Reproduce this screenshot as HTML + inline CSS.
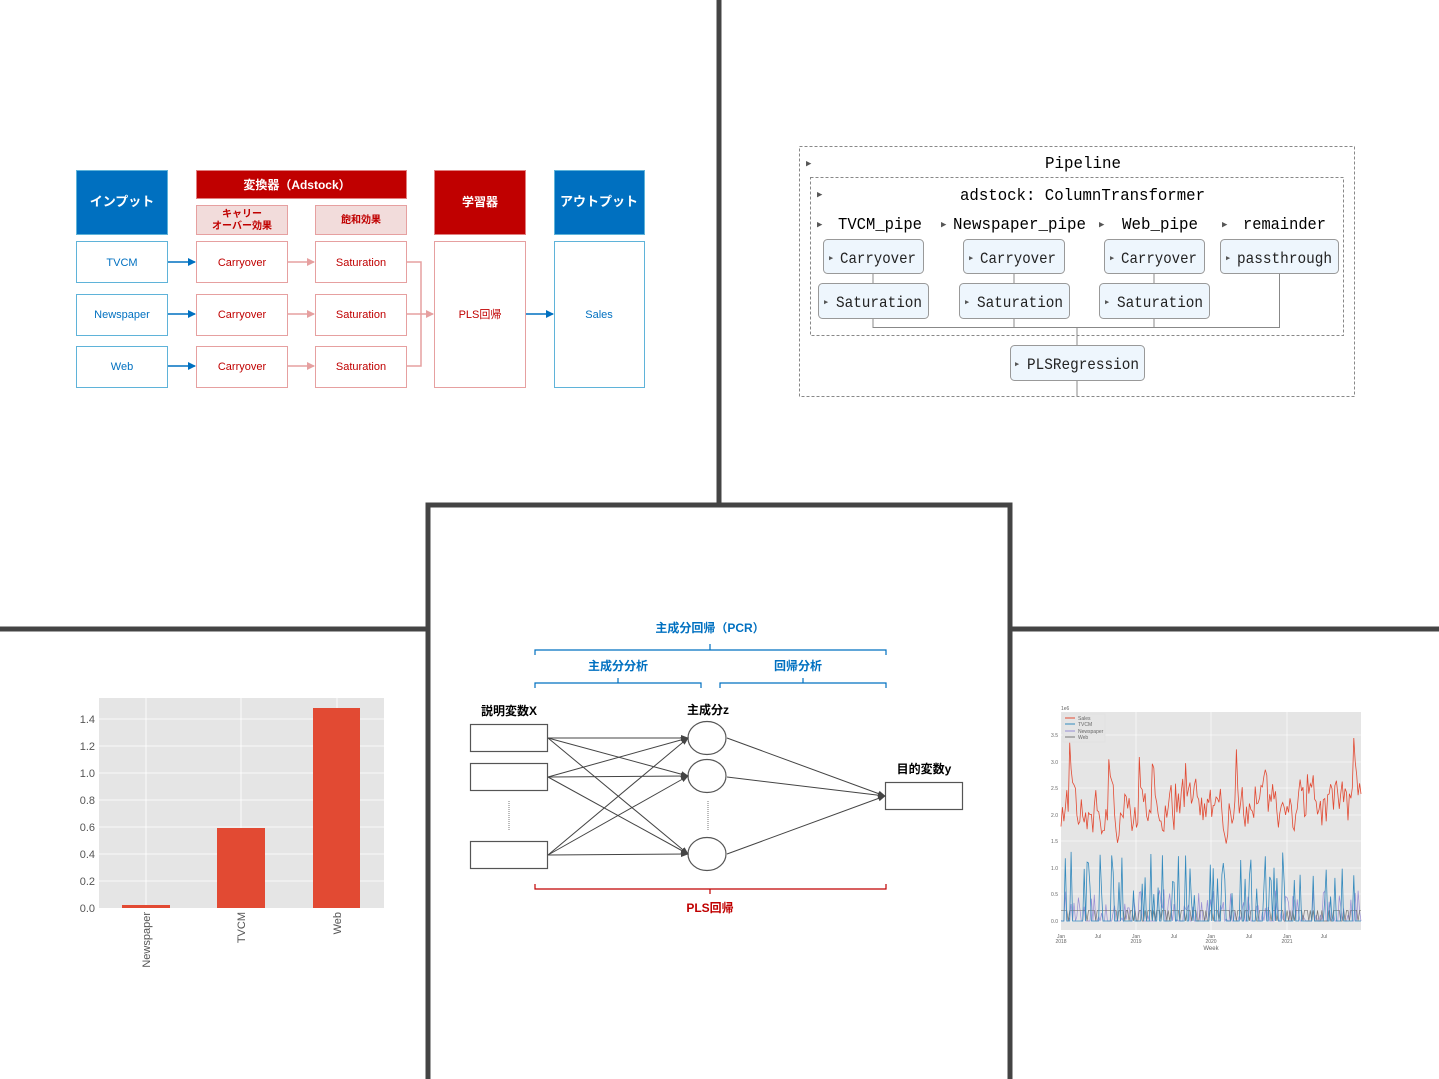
<!DOCTYPE html>
<html><head><meta charset="utf-8">
<style>
html,body{margin:0;padding:0;background:#fff;}
svg{display:block;}
.jp{font-family:"Liberation Sans","Noto Sans CJK JP",sans-serif;}
.mono{font-family:"Liberation Mono","DejaVu Sans Mono","Noto Sans CJK JP",monospace;}
</style></head>
<body>
<svg id="s" width="1439" height="1079" viewBox="0 0 1439 1079" xmlns="http://www.w3.org/2000/svg">
<defs>
<marker id="ab" markerWidth="8" markerHeight="8" refX="7" refY="4" orient="auto" markerUnits="userSpaceOnUse"><path d="M0,0 L8,4 L0,8z" fill="#0070c0"/></marker>
<marker id="ap" markerWidth="8" markerHeight="8" refX="7" refY="4" orient="auto" markerUnits="userSpaceOnUse"><path d="M0,0 L8,4 L0,8z" fill="#e6a0a0"/></marker>
<marker id="ak" markerWidth="8" markerHeight="8" refX="7" refY="4" orient="auto" markerUnits="userSpaceOnUse"><path d="M0,1 L8,4 L0,7z" fill="#444"/></marker>
</defs>

<g stroke="#444" stroke-width="5" fill="none">
<line x1="719" y1="0" x2="719" y2="504"/>
<line x1="0" y1="629" x2="428" y2="629"/>
<line x1="1010" y1="629" x2="1439" y2="629"/>
<path d="M428,1079 V505 H1010 V1079"/>
</g>

<!-- TOP LEFT -->
<g class="jp" font-size="11" text-anchor="middle">
<rect x="76.5" y="170.5" width="91" height="64" fill="#0070c0" stroke="#5fb3d9"/>
<text x="122" y="206" fill="#fff" font-weight="bold" font-size="13">インプット</text>
<rect x="196.5" y="170.5" width="210" height="28" fill="#c00000" stroke="#e08080"/>
<text x="297" y="189" fill="#fff" font-weight="bold" font-size="12">変換器（Adstock）</text>
<rect x="196.5" y="205.5" width="91" height="29" fill="#f2dcdb" stroke="#e6a0a0"/>
<text x="242" y="217" fill="#c00000" font-weight="bold" font-size="10">キャリー</text>
<text x="242" y="229" fill="#c00000" font-weight="bold" font-size="10">オーバー効果</text>
<rect x="315.5" y="205.5" width="91" height="29" fill="#f2dcdb" stroke="#e6a0a0"/>
<text x="361" y="223" fill="#c00000" font-weight="bold" font-size="10">飽和効果</text>
<rect x="434.5" y="170.5" width="91" height="64" fill="#c00000" stroke="#e08080"/>
<text x="480" y="206" fill="#fff" font-weight="bold" font-size="12">学習器</text>
<rect x="554.5" y="170.5" width="90" height="64" fill="#0070c0" stroke="#5fb3d9"/>
<text x="599" y="206" fill="#fff" font-weight="bold" font-size="13">アウトプット</text>

<g fill="#fff" stroke="#5fb3d9">
<rect x="76.5" y="241.5" width="91" height="41"/><rect x="76.5" y="294.5" width="91" height="41"/><rect x="76.5" y="346.5" width="91" height="41"/>
<rect x="554.5" y="241.5" width="90" height="146"/>
</g>
<g fill="#fff" stroke="#e6a0a0">
<rect x="196.5" y="241.5" width="91" height="41"/><rect x="196.5" y="294.5" width="91" height="41"/><rect x="196.5" y="346.5" width="91" height="41"/>
<rect x="315.5" y="241.5" width="91" height="41"/><rect x="315.5" y="294.5" width="91" height="41"/><rect x="315.5" y="346.5" width="91" height="41"/>
<rect x="434.5" y="241.5" width="91" height="146"/>
</g>
<g fill="#0070c0">
<text x="122" y="266">TVCM</text><text x="122" y="318">Newspaper</text><text x="122" y="370">Web</text>
<text x="599" y="318">Sales</text>
</g>
<g fill="#c00000">
<text x="242" y="266">Carryover</text><text x="242" y="318">Carryover</text><text x="242" y="370">Carryover</text>
<text x="361" y="266">Saturation</text><text x="361" y="318">Saturation</text><text x="361" y="370">Saturation</text>
<text x="480" y="318">PLS回帰</text>
</g>
<g stroke="#0070c0" stroke-width="1.5" marker-end="url(#ab)">
<line x1="168" y1="262" x2="195" y2="262"/><line x1="168" y1="314" x2="195" y2="314"/><line x1="168" y1="366" x2="195" y2="366"/>
<line x1="526" y1="314" x2="553" y2="314"/>
</g>
<g stroke="#e6a0a0" stroke-width="1.5" fill="none">
<line x1="288" y1="262" x2="314" y2="262" marker-end="url(#ap)"/><line x1="288" y1="314" x2="314" y2="314" marker-end="url(#ap)"/><line x1="288" y1="366" x2="314" y2="366" marker-end="url(#ap)"/>
<path d="M407,262 H421 V366 H407 M407,314 H421"/>
<line x1="421" y1="314" x2="433" y2="314" marker-end="url(#ap)"/>
</g>
</g>

<!-- TOP RIGHT pipeline -->
<g class="mono">
<rect x="799.5" y="146.5" width="555" height="250" fill="none" stroke="#888" stroke-dasharray="3,2"/>
<rect x="810.5" y="177.5" width="533" height="158" fill="none" stroke="#888" stroke-dasharray="3,2"/>
<g fill="#555" font-size="9"><text x="806" y="166">▶</text><text x="817" y="197">▶</text>
<text x="817" y="227">▶</text><text x="941" y="227">▶</text><text x="1099" y="227">▶</text><text x="1222" y="227">▶</text></g>
<g font-size="17" fill="#000">
<text x="1045" y="168" textLength="76" lengthAdjust="spacingAndGlyphs">Pipeline</text>
<text x="960" y="200" textLength="245" lengthAdjust="spacingAndGlyphs">adstock: ColumnTransformer</text>
<text x="838" y="229" textLength="84" lengthAdjust="spacingAndGlyphs">TVCM_pipe</text>
<text x="953" y="229" textLength="133" lengthAdjust="spacingAndGlyphs">Newspaper_pipe</text>
<text x="1122" y="229" textLength="76" lengthAdjust="spacingAndGlyphs">Web_pipe</text>
<text x="1243" y="229" textLength="83" lengthAdjust="spacingAndGlyphs">remainder</text>
</g>
<g stroke="#888" fill="none">
<line x1="873" y1="273" x2="873" y2="283"/><line x1="1014" y1="273" x2="1014" y2="283"/><line x1="1154" y1="273" x2="1154" y2="283"/>
<path d="M873,318 V327.5 H1279.5 V273 M1014,318 V327 M1154,318 V327 M1077,327 V345 M1077,380 V396"/>
</g>
<g fill="#eef6fd" stroke="#999">
<rect x="823.5" y="239.5" width="100" height="34" rx="4"/><rect x="963.5" y="239.5" width="101" height="34" rx="4"/><rect x="1104.5" y="239.5" width="100" height="34" rx="4"/><rect x="1220.5" y="239.5" width="118" height="34" rx="4"/>
<rect x="818.5" y="283.5" width="110" height="35" rx="4"/><rect x="959.5" y="283.5" width="110" height="35" rx="4"/><rect x="1099.5" y="283.5" width="110" height="35" rx="4"/>
<rect x="1010.5" y="345.5" width="134" height="35" rx="4"/>
</g>
<g font-size="7" fill="#555">
<text x="829" y="260">▶</text><text x="969" y="260">▶</text><text x="1110" y="260">▶</text><text x="1226" y="260">▶</text>
<text x="824" y="304">▶</text><text x="965" y="304">▶</text><text x="1105" y="304">▶</text><text x="1015" y="366">▶</text>
</g>
<g font-size="16" fill="#222" lengthAdjust="spacingAndGlyphs">
<text x="840" y="263" textLength="76" lengthAdjust="spacingAndGlyphs">Carryover</text>
<text x="980" y="263" textLength="76" lengthAdjust="spacingAndGlyphs">Carryover</text>
<text x="1121" y="263" textLength="76" lengthAdjust="spacingAndGlyphs">Carryover</text>
<text x="1237" y="263" textLength="95" lengthAdjust="spacingAndGlyphs">passthrough</text>
<text x="836" y="307" textLength="86" lengthAdjust="spacingAndGlyphs">Saturation</text>
<text x="977" y="307" textLength="86" lengthAdjust="spacingAndGlyphs">Saturation</text>
<text x="1117" y="307" textLength="86" lengthAdjust="spacingAndGlyphs">Saturation</text>
<text x="1027" y="369" textLength="112" lengthAdjust="spacingAndGlyphs">PLSRegression</text>
</g>
</g>

<!-- MIDDLE diagram -->
<g class="jp" font-weight="bold" text-anchor="middle" font-size="12">
<text x="710" y="632" fill="#0070c0">主成分回帰（PCR）</text>
<text x="618" y="670" fill="#0070c0">主成分分析</text>
<text x="798" y="670" fill="#0070c0">回帰分析</text>
<text x="710" y="912" fill="#c00000">PLS回帰</text>
<text x="509" y="715" fill="#000">説明変数X</text>
<text x="708" y="714" fill="#000">主成分z</text>
<text x="924" y="773" fill="#000">目的変数y</text>
</g>
<g fill="none" stroke-width="1.2">
<path d="M535,655 V650 H886 V655 M710,650 V644" stroke="#0070c0"/>
<path d="M535,688 V683 H701 V688 M618,683 V678" stroke="#0070c0"/>
<path d="M720,688 V683 H886 V688 M803,683 V678" stroke="#0070c0"/>
<path d="M535,884 V889 H886 V884 M710,889 V894" stroke="#c00000"/>
</g>
<g fill="#fff" stroke="#555" stroke-width="1.2">
<rect x="470.5" y="724.5" width="77" height="27"/><rect x="470.5" y="763.5" width="77" height="27"/><rect x="470.5" y="841.5" width="77" height="27"/>
<rect x="885.5" y="782.5" width="77" height="27"/>
<ellipse cx="707" cy="738" rx="19" ry="16.5"/><ellipse cx="707" cy="776" rx="19" ry="16.5"/><ellipse cx="707" cy="854" rx="19" ry="16.5"/>
</g>
<g stroke="#777" stroke-dasharray="1,1"><line x1="509" y1="801" x2="509" y2="830"/><line x1="708" y1="801" x2="708" y2="830"/></g>
<g stroke="#444" stroke-width="1" marker-end="url(#ak)">
<line x1="548" y1="738" x2="688" y2="738"/><line x1="548" y1="738" x2="688" y2="776"/><line x1="548" y1="738" x2="688" y2="854"/>
<line x1="548" y1="777" x2="688" y2="738"/><line x1="548" y1="777" x2="688" y2="776"/><line x1="548" y1="777" x2="688" y2="854"/>
<line x1="548" y1="855" x2="688" y2="738"/><line x1="548" y1="855" x2="688" y2="776"/><line x1="548" y1="855" x2="688" y2="854"/>
<line x1="727" y1="738" x2="885" y2="796"/><line x1="727" y1="777" x2="885" y2="796"/><line x1="727" y1="854" x2="885" y2="796"/>
</g>

<!-- BAR CHART -->
<rect x="99" y="698" width="285" height="210" fill="#e5e5e5"/>
<g stroke="#fff" stroke-width="0.8">
<line x1="99" y1="881" x2="384" y2="881"/><line x1="99" y1="854" x2="384" y2="854"/><line x1="99" y1="827" x2="384" y2="827"/><line x1="99" y1="800" x2="384" y2="800"/><line x1="99" y1="773" x2="384" y2="773"/><line x1="99" y1="746" x2="384" y2="746"/><line x1="99" y1="719" x2="384" y2="719"/>
<line x1="146" y1="698" x2="146" y2="908"/><line x1="241" y1="698" x2="241" y2="908"/><line x1="337" y1="698" x2="337" y2="908"/>
</g>
<g fill="#e24a33">
<rect x="122" y="905" width="48" height="3"/><rect x="217" y="828" width="48" height="80"/><rect x="313" y="708" width="47" height="200"/>
</g>
<g class="jp" font-size="11" fill="#555" text-anchor="end">
<text x="95" y="912">0.0</text><text x="95" y="885">0.2</text><text x="95" y="858">0.4</text><text x="95" y="831">0.6</text><text x="95" y="804">0.8</text><text x="95" y="777">1.0</text><text x="95" y="750">1.2</text><text x="95" y="723">1.4</text>
<text transform="translate(150,912) rotate(-90)">Newspaper</text>
<text transform="translate(245,912) rotate(-90)">TVCM</text>
<text transform="translate(341,912) rotate(-90)">Web</text>
</g>

<!-- TIME SERIES -->
<rect x="1061" y="712" width="300" height="218" fill="#e5e5e5"/>
<g stroke="#fff" stroke-width="0.6">
<line x1="1061" y1="921" x2="1361" y2="921"/><line x1="1061" y1="894" x2="1361" y2="894"/><line x1="1061" y1="868" x2="1361" y2="868"/><line x1="1061" y1="841" x2="1361" y2="841"/><line x1="1061" y1="815" x2="1361" y2="815"/><line x1="1061" y1="788" x2="1361" y2="788"/><line x1="1061" y1="762" x2="1361" y2="762"/><line x1="1061" y1="735" x2="1361" y2="735"/>
<line x1="1136" y1="712" x2="1136" y2="930"/><line x1="1211" y1="712" x2="1211" y2="930"/><line x1="1287" y1="712" x2="1287" y2="930"/>
</g>
<g id="ts"></g>
<g font-family="Liberation Sans,sans-serif" font-size="5" fill="#666">
<text x="1061" y="710">1e6</text>
<g text-anchor="end"><text x="1058" y="923">0.0</text><text x="1058" y="896">0.5</text><text x="1058" y="870">1.0</text><text x="1058" y="843">1.5</text><text x="1058" y="817">2.0</text><text x="1058" y="790">2.5</text><text x="1058" y="764">3.0</text><text x="1058" y="737">3.5</text></g>
<g text-anchor="middle"><text x="1061" y="938">Jan</text><text x="1061" y="943">2018</text><text x="1098" y="938">Jul</text><text x="1136" y="938">Jan</text><text x="1136" y="943">2019</text><text x="1174" y="938">Jul</text><text x="1211" y="938">Jan</text><text x="1211" y="943">2020</text><text x="1249" y="938">Jul</text><text x="1287" y="938">Jan</text><text x="1287" y="943">2021</text><text x="1324" y="938">Jul</text>
<text x="1211" y="950" font-size="6">Week</text></g>
<rect x="1063" y="714" width="42" height="28" fill="#e5e5e5" stroke="#ddd" stroke-width="0.5"/>
<line x1="1065" y1="718" x2="1075" y2="718" stroke="#e24a33"/><text x="1078" y="720">Sales</text>
<line x1="1065" y1="724" x2="1075" y2="724" stroke="#348abd"/><text x="1078" y="726">TVCM</text>
<line x1="1065" y1="731" x2="1075" y2="731" stroke="#988ed5"/><text x="1078" y="733">Newspaper</text>
<line x1="1065" y1="737" x2="1075" y2="737" stroke="#777"/><text x="1078" y="739">Web</text>
</g>
</svg>
<script>
(function(){
var seed=12345;function r(){seed=(seed*16807)%2147483647;return (seed-1)/2147483646;}
var N=208,x0=1061,w=300,y0=921,k=53.3;var s="",t="",n="",wb="";var sv=2.1;
for(var i=0;i<N;i++){var x=(x0+i*w/(N-1)).toFixed(1);
sv=0.55*sv+0.45*(2.1+(r()-0.5)*1.8)+(r()<0.08?r()*1.0:0);
if(sv>3.7)sv=3.7;if(sv<0.9)sv=0.9;
var tv=r()<0.3? 0.4+r()*0.9:0;
var nv=r()<0.45? r()*0.6:0;
var wv=r()<0.75?0.2:0;
s+=(i?"L":"M")+x+","+(y0-sv*k).toFixed(1);
t+=(i?"L":"M")+x+","+(y0-tv*k).toFixed(1);
n+=(i?"L":"M")+x+","+(y0-nv*k).toFixed(1);
wb+=(i?"L":"M")+x+","+(y0-wv*k).toFixed(1);}
var g=document.getElementById("ts");
g.innerHTML='<path d="'+n+'" fill="none" stroke="#988ed5" stroke-width="0.7"/><path d="'+wb+'" fill="none" stroke="#777" stroke-width="0.7"/><path d="'+t+'" fill="none" stroke="#348abd" stroke-width="0.8"/><path d="'+s+'" fill="none" stroke="#e24a33" stroke-width="0.8"/>';
})();
</script>
</body></html>
